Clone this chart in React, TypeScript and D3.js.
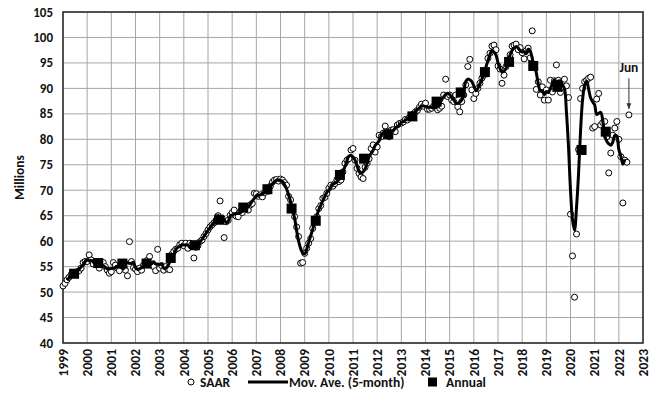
import React from 'react';
import * as d3 from 'd3';

// monthly SAAR, Jan 1999 .. Jun 2022 (millions)
const saar = [
  51.2, 51.7, 52.4, 52.9, 53.4, 53.6, 53.8, 54.0, 54.2, 54.7, 55.8, 56.0, // 1999
  56.0, 57.3, 56.3, 55.5, 56.0, 55.3, 54.7, 55.7, 55.8, 55.0, 54.3, 53.7, // 2000
  54.0, 55.8, 55.3, 54.7, 54.2, 55.3, 55.7, 54.3, 53.2, 59.9, 56.0, 54.8, // 2001
  54.5, 54.0, 54.7, 54.3, 55.3, 55.7, 56.3, 57.0, 55.3, 55.0, 54.2, 58.4, // 2002
  54.7, 55.2, 54.3, 55.0, 54.5, 54.4, 57.4, 58.0, 58.4, 58.6, 59.3, 59.6, // 2003
  59.1, 59.6, 58.6, 59.6, 59.3, 56.7, 58.8, 59.1, 59.9, 60.2, 60.9, 61.5, // 2004
  62.2, 62.8, 63.2, 63.6, 64.1, 65.0, 67.9, 64.5, 60.7, 63.8, 64.1, 65.1, // 2005
  65.6, 66.1, 64.9, 64.8, 65.8, 65.6, 66.8, 66.4, 66.1, 67.1, 67.4, 69.4, // 2006
  69.3, 68.8, 69.1, 68.7, 69.5, 70.4, 69.8, 70.8, 71.6, 72.0, 72.1, 71.8, // 2007
  72.2, 72.0, 71.5, 71.0, 68.8, 68.1, 66.1, 64.8, 62.8, 60.9, 55.7, 55.8, // 2008
  57.6, 58.6, 59.6, 60.5, 62.5, 64.2, 64.8, 66.4, 67.0, 68.4, 68.6, 69.4, // 2009
  70.4, 71.0, 70.8, 71.3, 72.1, 71.7, 72.0, 73.6, 75.3, 75.9, 76.2, 77.9, // 2010
  78.2, 75.9, 74.3, 73.3, 72.6, 72.3, 74.5, 75.3, 76.2, 78.2, 78.9, 77.5, // 2011
  78.5, 80.8, 80.5, 81.2, 82.6, 81.5, 80.5, 81.8, 81.9, 81.5, 82.8, 83.1, // 2012
  83.2, 83.4, 83.9, 83.8, 84.3, 84.7, 85.0, 85.4, 85.7, 86.3, 86.9, 86.5, // 2013
  87.1, 85.9, 85.9, 86.1, 86.5, 86.8, 85.8, 86.1, 86.5, 88.7, 91.8, 88.4, // 2014
  88.7, 87.7, 87.4, 88.7, 86.4, 85.4, 87.4, 88.7, 90.7, 94.3, 95.7, 89.7, // 2015
  88.0, 89.0, 90.0, 91.0, 92.0, 92.6, 93.5, 95.9, 96.9, 98.3, 98.5, 97.6, // 2016
  94.4, 93.8, 91.0, 92.6, 94.3, 95.2, 96.6, 98.3, 98.5, 98.7, 97.6, 98.0, // 2017
  97.0, 95.8, 97.4, 97.9, 96.0, 101.3, 94.3, 89.8, 91.3, 88.7, 90.3, 87.7, // 2018
  89.7, 87.7, 91.6, 89.3, 91.5, 94.6, 91.6, 89.2, 90.3, 91.8, 90.5, 88.2, // 2019
  65.3, 57.1, 49.0, 61.4, 78.0, 88.0, 90.0, 91.3, 91.6, 92.0, 92.2, 82.2, // 2020
  82.5, 87.9, 89.0, 82.8, 83.3, 83.5, 80.5, 73.4, 77.3, 80.8, 82.2, 83.5, // 2021
  80.0, 76.6, 67.5, 75.9, 75.5, 84.8, // 2022 (to Jun)
];

// annual averages, 1999 .. 2021
const annual = [
  53.6, 55.7, 55.6, 55.6, 56.7, 59.2, 64.2, 66.6, 70.2, 66.4, 64.0, 73.0,
  76.2, 81.0, 84.5, 87.4, 89.2, 93.2, 95.2, 94.4, 90.3, 77.9, 81.5,
];

const yearLabels = [
  '1999', '2000', '2001', '2002', '2003', '2004', '2005', '2006', '2007',
  '2008', '2009', '2010', '2011', '2012', '2013', '2014', '2015', '2016',
  '2017', '2018', '2019', '2020', '2021', '2022', '2023',
];
const yTicks = [40, 45, 50, 55, 60, 65, 70, 75, 80, 85, 90, 95, 100, 105];

const W = 657;
const H = 393;
const left = 63, right = 643, top = 12, bottom = 343;
const font = "Calibri, Carlito, Lato, 'Open Sans', sans-serif";

const x = d3.scaleLinear().domain([1999, 2023]).range([left, right]);
const y = d3.scaleLinear().domain([40, 105]).range([bottom, top]);

const points = saar.map((v, i) => ({ t: 1999 + i / 12, v }));
// centred 5-month moving average
const ma = points.map((p, i) => ({
  t: p.t,
  v: i < 2 || i > saar.length - 3 ? null : d3.mean(saar.slice(i - 2, i + 3)),
}));

const maLine = d3.line<any>()
  .defined(d => d.v != null)
  .x(d => x(d.t))
  .y(d => y(d.v))
  .curve(d3.curveCatmullRom);

export default function App() {
  const last = points[points.length - 1];
  const jx = x(last.t);
  return (
    <svg width={W} height={H} style={{ position: 'absolute', left: 0, top: 0, display: 'block', background: '#fff' }}
      fontFamily={font} fontWeight="bold">
      <defs>
        <marker id="arr" viewBox="0 0 10 10" refX="9" refY="5" markerWidth="6" markerHeight="6" orient="auto">
          <path d="M0,1 L10,5 L0,9 z" fill="#333" />
        </marker>
      </defs>

      {/* grid */}
      {yTicks.map(t => (
        <line key={'h' + t} x1={left} x2={right} y1={y(t)} y2={y(t)} stroke="#a6a6a6" strokeWidth={1} />
      ))}
      {yearLabels.map(l => (
        <line key={'v' + l} x1={x(+l)} x2={x(+l)} y1={top} y2={bottom} stroke="#a6a6a6" strokeWidth={1} />
      ))}
      <rect x={left} y={top} width={right - left} height={bottom - top} fill="none" stroke="#262626" strokeWidth={1.5} />

      {/* y ticks */}
      {yTicks.map(t => (
        <text key={'yt' + t} x={left - 10} y={y(t)} dy="0.35em" textAnchor="end" fontSize={13} fill="#111">{t}</text>
      ))}
      <text transform={`translate(24,${(top + bottom) / 2}) rotate(-90)`} textAnchor="middle" fontSize={13.5} fill="#111">Millions</text>

      {/* x ticks */}
      {yearLabels.map(l => (
        <text key={'xt' + l} transform={`translate(${x(+l)},${bottom + 6}) rotate(-90)`} dy="0.35em" textAnchor="end"
          fontSize={13.5} fill="#111">{l}</text>
      ))}

      {/* SAAR points */}
      {points.map((p, i) => (
        <circle key={'p' + i} cx={x(p.t)} cy={y(p.v)} r={3} fill="#fff" stroke="#000" strokeWidth={1} />
      ))}

      {/* moving average */}
      <path d={maLine(ma) || ''} fill="none" stroke="#000" strokeWidth={3} strokeLinejoin="round" />

      {/* annual */}
      {annual.map((v, i) => (
        <rect key={'a' + i} x={x(1999 + i + 5.5 / 12) - 5} y={y(v) - 5} width={10} height={10} fill="#000" />
      ))}

      {/* Jun annotation */}
      <text x={jx} y={y(92.5) - 4} textAnchor="middle" fontSize={13.5} fill="#111">Jun</text>
      <line x1={jx} x2={jx} y1={y(92)} y2={y(86)} stroke="#333" strokeWidth={1} markerEnd="url(#arr)" />

      {/* legend */}
      <g fontSize={13.5} fill="#111">
        <circle cx={191} cy={382} r={3} fill="#fff" stroke="#000" strokeWidth={1} />
        <text x={200} y={387}>SAAR</text>
        <line x1={248} x2={288} y1={382} y2={382} stroke="#000" strokeWidth={3} />
        <text x={289} y={387}>Mov. Ave. (5-month)</text>
        <rect x={428} y={377.5} width={9} height={9} fill="#000" />
        <text x={446} y={387}>Annual</text>
      </g>
    </svg>
  );
}
